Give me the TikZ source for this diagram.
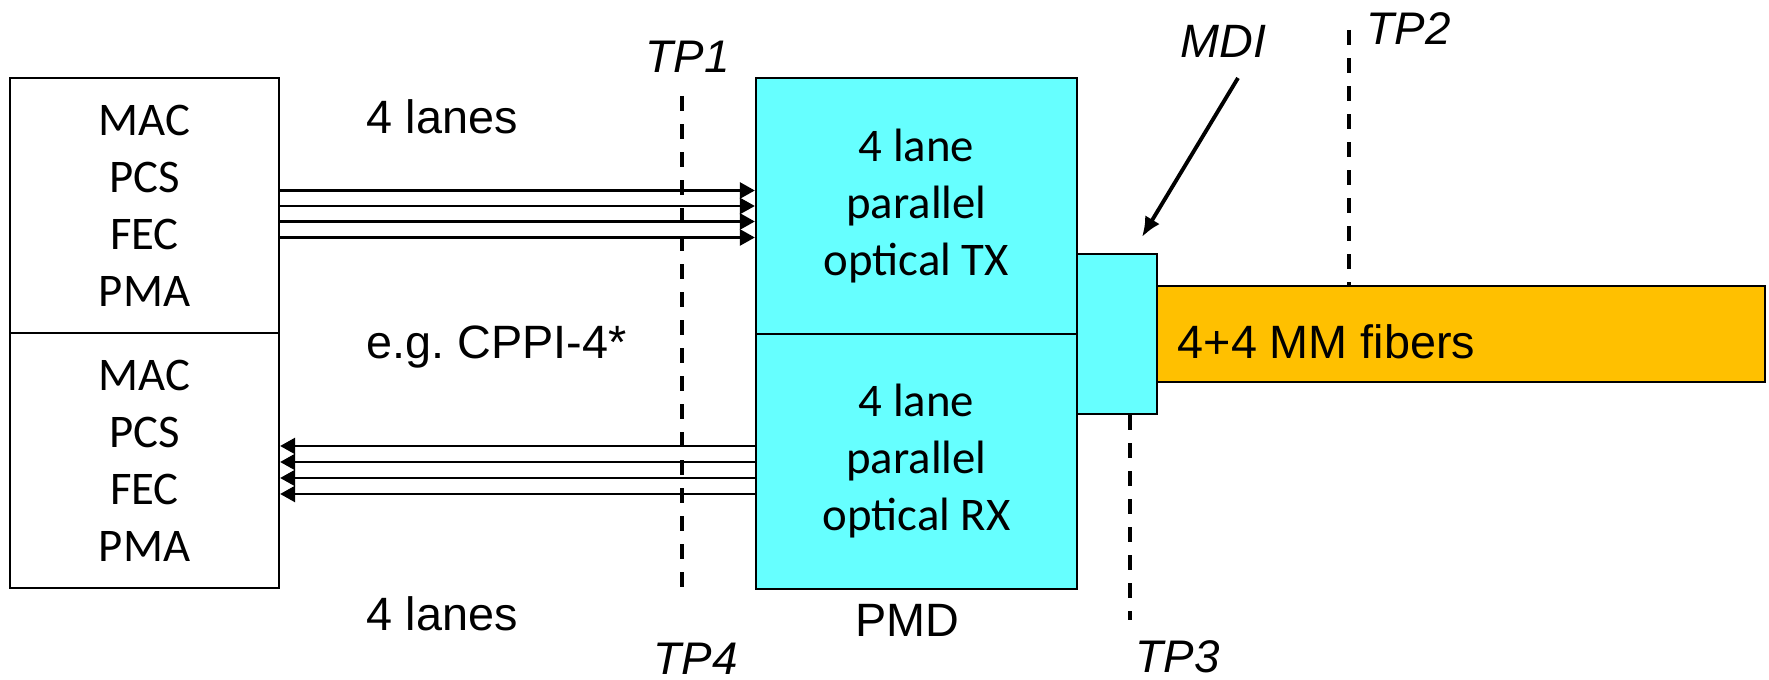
\documentclass[tikz,border=0pt]{standalone}
\usepackage{fontspec}
\setmainfont{Carlito}
\newfontfamily\arialfont{Liberation Sans}
\usetikzlibrary{arrows.meta, positioning}
\definecolor{pmdcyan}{RGB}{102,255,255}
\definecolor{fiberorange}{RGB}{255,192,0}

\begin{document}
\begin{tikzpicture}[
    x=0.01cm, y=-0.01cm,
    every node/.style={font=\fontsize{13.3}{16.2}\selectfont},
    stack/.style={rectangle, draw, line width=0.6pt, minimum width=2.69cm, minimum height=2.55cm, align=center, inner sep=0pt},
    pmd/.style={rectangle, draw, fill=pmdcyan, line width=0.6pt, minimum width=3.21cm, minimum height=2.555cm, align=center, inner sep=0pt},
    plug/.style={rectangle, draw, fill=pmdcyan, line width=0.6pt, minimum width=0.8cm, minimum height=1.6cm, inner sep=0pt},
    fiberbar/.style={rectangle, draw, fill=fiberorange, line width=0.6pt, minimum width=6.08cm, minimum height=0.96cm, inner sep=0pt},
    lbl/.style={font=\arialfont\fontsize{13.3}{16}\selectfont, inner sep=0pt},
    tplbl/.style={font=\arialfont\itshape\fontsize{13}{15}\selectfont, inner sep=0pt},
    tpline/.style={line width=1.1pt, dash pattern=on 0.15cm off 0.13cm},
    lane/.style={line width=0.75pt, -{Triangle[length=0.15cm, width=0.16cm]}},
    pointer/.style={line width=1.1pt, -{Latex[length=0.2cm, width=0.17cm]}}
]
    \useasboundingbox (0,0) rectangle (1769,680);

    % Host side stacks
    \node (stackTX) [stack] at (144.5,205.5) {MAC\\PCS\\FEC\\PMA};
    \node (stackRX) [stack] at (144.5,460.5) {MAC\\PCS\\FEC\\PMA};

    % PMD
    \node (tx) [pmd] at (916.5,206) {4 lane\\parallel\\optical TX};
    \node (rx) [pmd] at (916.5,461.5) {4 lane\\parallel\\optical RX};
    \node (fiber) [fiberbar] at (1461,334) {};
    \node (mdi) [plug] at (1117,334) {};

    % Labels
    \node (lanesTop) [lbl, anchor=base west] at (366,134) {4 lanes};
    \node (cppi) [lbl, anchor=base west] at (366,359) {e.g.\ CPPI-4*};
    \node (lanesBot) [lbl, anchor=base west] at (366,631) {4 lanes};
    \node (pmdlbl) [lbl, anchor=base west] at (855,637) {PMD};
    \node (fibtxt) [lbl, anchor=base west] at (1177,359) {4+4 MM fibers};
    \node (tp1) [tplbl, anchor=base west] at (645,73) {TP1};
    \node (tp2) [tplbl, anchor=base west] at (1366,45) {TP2};
    \node (tp3) [tplbl, anchor=base west] at (1135,673) {TP3};
    \node (tp4) [tplbl, anchor=base west] at (653,675) {TP4};
    \node (mdilbl) [tplbl, font=\arialfont\itshape\fontsize{13.3}{16}\selectfont, anchor=base west] at (1180,58) {MDI};

    % Test points
    \coordinate (tp1top) at (682,96);
    \coordinate (tp1bot) at (682,600);
    \coordinate (tp2top) at (1349,30);
    \coordinate (tp3bot) at (1130,620);
    \draw [tpline] (tp1top) -- (tp1bot);
    \draw [tpline] (tp2top) -- (tp2top |- fiber.north);
    \draw [tpline] (tp3bot |- mdi.south) -- (tp3bot);

    % Lanes
    \foreach \y in {190.5,206,221.5,237.5}
        \draw [lane] (stackTX.east |- 0,\y) -- (tx.west |- 0,\y);
    \foreach \y in {446,462,478,494}
        \draw [lane] (rx.west |- 0,\y) -- (stackRX.east |- 0,\y);

    % MDI pointer
    \coordinate (mdiFrom) at (1238,78);
    \coordinate (mdiTo) at (1142,237);
    \draw [pointer] (mdiFrom) -- (mdiTo);
\end{tikzpicture}
\end{document}
